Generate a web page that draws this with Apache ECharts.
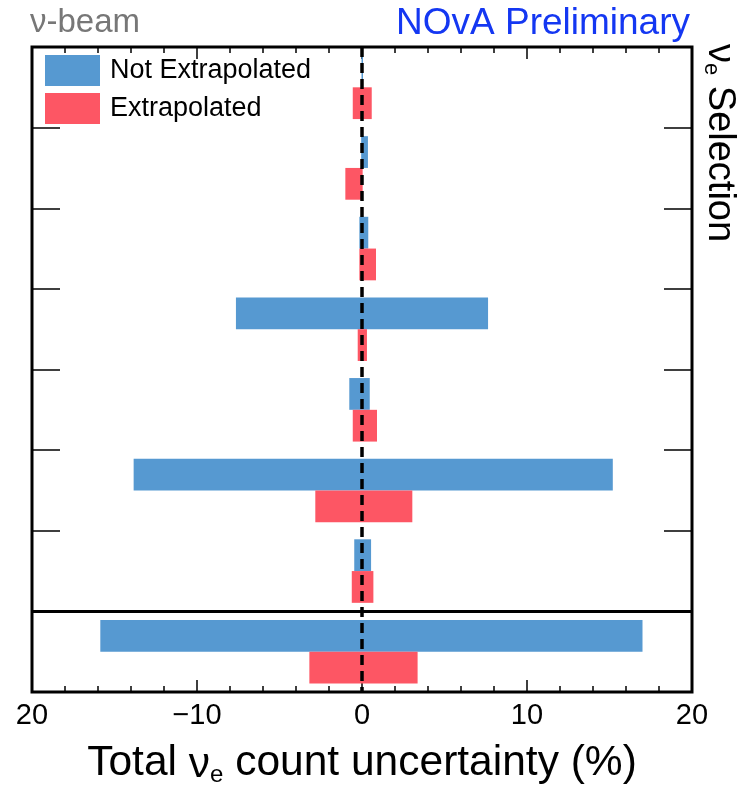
<!DOCTYPE html>
<html><head><meta charset="utf-8">
<script src="https://cdn.jsdelivr.net/npm/echarts@6/dist/echarts.min.js"></script>
<style>html,body{margin:0;padding:0;background:#fff}#c{width:748px;height:792px}</style>
</head><body><div id="c"></div>
<script>
// ---- data ----
const categories = ['Syst 1', 'Syst 2', 'Syst 3', 'Syst 4', 'Syst 5', 'Syst 6', 'Syst 7', 'Total'];
const notExtrapLow  = [-0.03, -0.05, -0.16, -7.64, -0.77, -13.84, -0.47, -15.86];
const notExtrapHigh = [ 0.06,  0.36,  0.38,  7.64,  0.47,  15.20,  0.55,  17.00];
const extrapLow     = [-0.56, -1.01, -0.16, -0.26, -0.56, -2.83, -0.62, -3.19];
const extrapHigh    = [ 0.59,  0.04,  0.85,  0.30,  0.91,  3.05,  0.69,  3.37];
const xTickValues = [-20, -10, 0, 10, 20];
const xTickLabels = ['20', '\u221210', '0', '10', '20'];
const seriesNames = ['Not Extrapolated', 'Extrapolated'];
const dividerPosition = [7]; // boundary between the selection rows and the total row

const FONT = 'Liberation Sans';
const BLUE = '#5699d1';
const RED = '#fd5664';

function rows(lo, hi) { return categories.map((c, i) => [i, lo[i], hi[i]]); }

function makeRender(side) {
  return function (params, api) {
    const cat = api.value(0);
    const p0 = api.coord([api.value(1), cat]);
    const p1 = api.coord([api.value(2), cat]);
    const band = api.size([0, 1])[1];
    const h = band * 0.394;
    const y = side < 0 ? p0[1] - h : p0[1];
    return { type: 'rect', shape: { x: p0[0], y: y, width: p1[0] - p0[0], height: h }, style: api.style() };
  };
}

const xAxisCommon = {
  type: 'value', min: -20, max: 20, interval: 10,
  axisLine: { show: false, onZero: false },
  splitLine: { show: false },
  axisTick: { show: true, inside: true, length: 12, lineStyle: { color: '#000', width: 1.5 } },
  minorTick: { show: true, splitNumber: 5, length: 6, lineStyle: { color: '#000', width: 1.5 } },
  minorSplitLine: { show: false }
};
const yAxisCommon = {
  type: 'category', data: categories, inverse: true, boundaryGap: true,
  axisLine: { show: false, onZero: false },
  axisLabel: { show: false },
  splitLine: { show: false },
  axisTick: { show: true, inside: true, length: 28, lineStyle: { color: '#000', width: 1.5 } }
};

const chart = echarts.init(document.getElementById('c'), null, { renderer: 'canvas' });
chart.setOption({
  backgroundColor: '#fff',
  animation: false,
  textStyle: { fontFamily: FONT },
  grid: { left: 32, right: 56, top: 47, bottom: 95, show: true, borderColor: '#000', borderWidth: 3, backgroundColor: 'transparent' },
  legend: {
    data: seriesNames, orient: 'vertical', left: 45, top: 55, padding: 0,
    icon: 'rect', itemWidth: 55, itemHeight: 31, itemGap: 7,
    textStyle: { fontSize: 27, color: '#000', fontFamily: FONT, padding: [0, 0, 0, 5] }
  },
  xAxis: [
    Object.assign({}, xAxisCommon, {
      position: 'bottom',
      axisLabel: {
        show: true, margin: 9, fontSize: 29, color: '#000', fontFamily: FONT,
        formatter: function (v) { const i = xTickValues.indexOf(v); return i >= 0 ? xTickLabels[i] : ''; }
      },
      name: 'Total {n|\u03bd}{s|e} count uncertainty (%)',
      nameLocation: 'middle', nameGap: 47,
      nameTextStyle: {
        fontSize: 42.5, color: '#000', fontFamily: FONT,
        rich: {
          n: { fontSize: 42.5, fontFamily: FONT, color: '#000', verticalAlign: 'bottom', lineHeight: 48 },
          s: { fontSize: 24, fontFamily: FONT, color: '#000', verticalAlign: 'bottom', lineHeight: 21 }
        }
      }
    }),
    Object.assign({}, xAxisCommon, { position: 'top', axisLabel: { show: false } })
  ],
  yAxis: [
    Object.assign({}, yAxisCommon, { position: 'left' }),
    Object.assign({}, yAxisCommon, { position: 'right' }),
    { type: 'value', min: 0, max: categories.length, inverse: true, show: false }
  ],
  series: [
    {
      name: seriesNames[0], type: 'custom', renderItem: makeRender(-1),
      itemStyle: { color: BLUE }, encode: { x: [1, 2], y: 0 },
      data: rows(notExtrapLow, notExtrapHigh), z: 2
    },
    {
      name: seriesNames[1], type: 'custom', renderItem: makeRender(1),
      itemStyle: { color: RED }, encode: { x: [1, 2], y: 0 },
      data: rows(extrapLow, extrapHigh), z: 2
    },
    {
      name: 'zero', type: 'line', data: [], z: 10,
      markLine: {
        silent: true, symbol: 'none', animation: false,
        label: { show: false },
        lineStyle: { color: '#000', width: 3.5, type: [10, 6] },
        data: [{ xAxis: 0 }]
      }
    },
    {
      name: 'divider', type: 'line', data: [], yAxisIndex: 2, z: 10,
      markLine: {
        silent: true, symbol: 'none', animation: false,
        label: { show: false },
        lineStyle: { color: '#000', width: 3, type: 'solid' },
        data: dividerPosition.map(v => ({ yAxis: v }))
      }
    }
  ],
  graphic: [
    { type: 'text', left: 30, top: 6, style: { text: '\u03bd-beam', fontSize: 33, fill: '#777', fontFamily: FONT } },
    { type: 'text', right: 58, top: 5, style: { text: 'NOvA Preliminary', fontSize: 37, fill: '#1437f2', fontFamily: FONT } },
    {
      type: 'text', x: 722, y: 44, rotation: -Math.PI / 2,
      style: {
        text: '{n|\u03bd}{s|e}{n| Selection}', fontFamily: FONT, fill: '#000',
        textAlign: 'left', textVerticalAlign: 'middle',
        rich: {
          n: { fontSize: 38, fontFamily: FONT, fill: '#000', verticalAlign: 'bottom', lineHeight: 44 },
          s: { fontSize: 22, fontFamily: FONT, fill: '#000', verticalAlign: 'bottom', lineHeight: 18 }
        }
      }
    }
  ]
});
</script>
</body></html>
